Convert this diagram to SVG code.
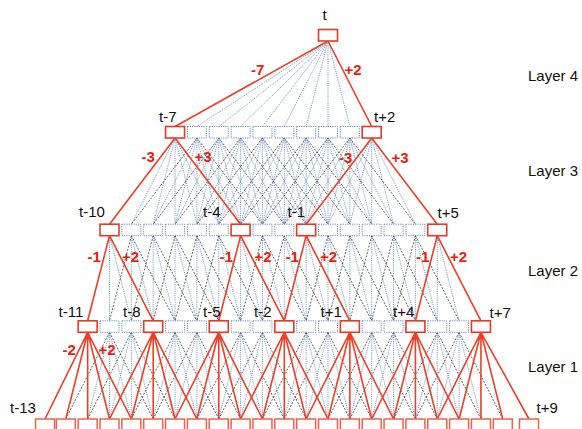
<svg xmlns="http://www.w3.org/2000/svg" width="582" height="429" viewBox="0 0 582 429">
<style>
.bl{stroke:#7ea2d0;stroke-width:1;stroke-dasharray:1.2 1;fill:none}
.bk{stroke:#262626;stroke-width:0.7;stroke-dasharray:2 1.4;fill:none}
.rd{stroke:#ee3f26;stroke-width:1.6;fill:none}
.bx{fill:#fff;stroke:#6f93c4;stroke-width:1;stroke-dasharray:1.3 1}
.rb{fill:#fff;stroke:#e53b25;stroke-width:1.6}
.ib{fill:#fff;stroke:#f0604a;stroke-width:1.5}
text{font-family:"Liberation Sans",Arial,sans-serif;font-size:15px;fill:#111}
.rl{font-weight:bold;fill:#ee1c0a}
</style>
<defs>
<g id="f3in"><line x1="0" y1="0" x2="-43.7" y2="86.2"/><line x1="0" y1="0" x2="-21.85" y2="86.2"/><line x1="0" y1="0" x2="0" y2="86.2"/><line x1="0" y1="0" x2="21.85" y2="86.2"/><line x1="0" y1="0" x2="43.7" y2="86.2"/></g>
<g id="f3out"><line x1="0" y1="0" x2="-65.55" y2="86.2"/><line x1="0" y1="0" x2="65.55" y2="86.2"/></g>
<g id="f2in"><line x1="0" y1="0" x2="0" y2="85.1"/><line x1="0" y1="0" x2="21.85" y2="85.1"/></g>
<g id="f2out"><line x1="0" y1="0" x2="-21.85" y2="85.1"/><line x1="0" y1="0" x2="43.7" y2="85.1"/></g>
<g id="f1in"><line x1="0" y1="0" x2="-21.85" y2="86.7"/><line x1="0" y1="0" x2="0" y2="86.7"/><line x1="0" y1="0" x2="21.85" y2="86.7"/></g>
<g id="f1out"><line x1="0" y1="0" x2="-43.7" y2="86.7"/><line x1="0" y1="0" x2="43.7" y2="86.7"/></g>
</defs>

<g id="connectors">
<g class="bl">
<path d="M328,41L196.9,126.5M328,41L218.75,126.5M328,41L240.6,126.5M328,41L262.45,126.5M328,41L284.3,126.5M328,41L306.15,126.5M328,41L328,126.5M328,41L349.85,126.5"/>
<use href="#f3in" x="175.05" y="138"/><use href="#f3in" x="196.9" y="138"/><use href="#f3in" x="218.75" y="138"/><use href="#f3in" x="240.6" y="138"/><use href="#f3in" x="262.45" y="138"/><use href="#f3in" x="284.3" y="138"/><use href="#f3in" x="306.15" y="138"/><use href="#f3in" x="328" y="138"/><use href="#f3in" x="349.85" y="138"/><use href="#f3in" x="371.7" y="138"/>
<use href="#f2in" x="109.5" y="235.7"/><use href="#f2in" x="131.35" y="235.7"/><use href="#f2in" x="153.2" y="235.7"/><use href="#f2in" x="175.05" y="235.7"/><use href="#f2in" x="196.9" y="235.7"/><use href="#f2in" x="218.75" y="235.7"/><use href="#f2in" x="240.6" y="235.7"/><use href="#f2in" x="262.45" y="235.7"/><use href="#f2in" x="284.3" y="235.7"/><use href="#f2in" x="306.15" y="235.7"/><use href="#f2in" x="328" y="235.7"/><use href="#f2in" x="349.85" y="235.7"/><use href="#f2in" x="371.7" y="235.7"/><use href="#f2in" x="393.55" y="235.7"/><use href="#f2in" x="415.4" y="235.7"/><use href="#f2in" x="437.25" y="235.7"/>
<use href="#f1in" x="109.5" y="332.3"/><use href="#f1in" x="131.35" y="332.3"/><use href="#f1in" x="175.05" y="332.3"/><use href="#f1in" x="196.9" y="332.3"/><use href="#f1in" x="240.6" y="332.3"/><use href="#f1in" x="262.45" y="332.3"/><use href="#f1in" x="306.15" y="332.3"/><use href="#f1in" x="328" y="332.3"/><use href="#f1in" x="371.7" y="332.3"/><use href="#f1in" x="393.55" y="332.3"/><use href="#f1in" x="437.25" y="332.3"/><use href="#f1in" x="459.1" y="332.3"/>
</g>
<g class="bk">
<use href="#f3out" x="196.9" y="138"/><use href="#f3out" x="218.75" y="138"/><use href="#f3out" x="240.6" y="138"/><use href="#f3out" x="262.45" y="138"/><use href="#f3out" x="284.3" y="138"/><use href="#f3out" x="306.15" y="138"/><use href="#f3out" x="328" y="138"/><use href="#f3out" x="349.85" y="138"/>
<use href="#f2out" x="131.35" y="235.7"/><use href="#f2out" x="153.2" y="235.7"/><use href="#f2out" x="175.05" y="235.7"/><use href="#f2out" x="196.9" y="235.7"/><use href="#f2out" x="218.75" y="235.7"/><use href="#f2out" x="262.45" y="235.7"/><use href="#f2out" x="284.3" y="235.7"/><use href="#f2out" x="328" y="235.7"/><use href="#f2out" x="349.85" y="235.7"/><use href="#f2out" x="371.7" y="235.7"/><use href="#f2out" x="393.55" y="235.7"/><use href="#f2out" x="415.4" y="235.7"/>
<use href="#f1out" x="109.5" y="332.3"/><use href="#f1out" x="131.35" y="332.3"/><use href="#f1out" x="175.05" y="332.3"/><use href="#f1out" x="196.9" y="332.3"/><use href="#f1out" x="240.6" y="332.3"/><use href="#f1out" x="262.45" y="332.3"/><use href="#f1out" x="306.15" y="332.3"/><use href="#f1out" x="328" y="332.3"/><use href="#f1out" x="371.7" y="332.3"/><use href="#f1out" x="393.55" y="332.3"/><use href="#f1out" x="437.25" y="332.3"/><use href="#f1out" x="459.1" y="332.3"/>
</g>
<g class="rd">
<path d="M328,41L175.05,126.5M328,41L371.7,126.5"/>
<path d="M175.05,138L109.5,224.2M175.05,138L240.6,224.2M371.7,138L306.15,224.2M371.7,138L437.25,224.2"/>
<path d="M109.5,235.7L87.65,320.8M109.5,235.7L153.2,320.8M240.6,235.7L218.75,320.8M240.6,235.7L284.3,320.8M306.15,235.7L284.3,320.8M306.15,235.7L349.85,320.8M437.25,235.7L415.4,320.8M437.25,235.7L480.95,320.8"/>
<path d="M87.65,332.3L45,419M87.65,332.3L65.8,419M87.65,332.3L87.65,419M87.65,332.3L109.5,419M87.65,332.3L131.35,419"/>
<path d="M153.2,332.3L109.5,419M153.2,332.3L131.35,419M153.2,332.3L153.2,419M153.2,332.3L175.05,419M153.2,332.3L196.9,419"/>
<path d="M218.75,332.3L175.05,419M218.75,332.3L196.9,419M218.75,332.3L218.75,419M218.75,332.3L240.6,419M218.75,332.3L262.45,419"/>
<path d="M284.3,332.3L240.6,419M284.3,332.3L262.45,419M284.3,332.3L284.3,419M284.3,332.3L306.15,419M284.3,332.3L328,419"/>
<path d="M349.85,332.3L306.15,419M349.85,332.3L328,419M349.85,332.3L349.85,419M349.85,332.3L371.7,419M349.85,332.3L393.55,419"/>
<path d="M415.4,332.3L371.7,419M415.4,332.3L393.55,419M415.4,332.3L415.4,419M415.4,332.3L437.25,419M415.4,332.3L459.1,419"/>
<path d="M480.95,332.3L437.25,419M480.95,332.3L459.1,419M480.95,332.3L480.95,419M480.95,332.3L502.8,419M480.95,332.3L529,419"/>
</g>
</g>

<g id="layer4">
<g id="n_t"><rect class="rb" x="318.5" y="29.5" width="19" height="11.5"/><text x="322.5" y="19.5">t</text></g>
</g>

<g id="layer3">
<g id="n3_m7"><rect class="rb" x="165.55" y="126.5" width="19" height="11.5"/><text x="159" y="122">t-7</text></g>
<g id="n3_m6"><rect class="bx" x="187.4" y="126.5" width="19" height="11.5"/></g>
<g id="n3_m5"><rect class="bx" x="209.25" y="126.5" width="19" height="11.5"/></g>
<g id="n3_m4"><rect class="bx" x="231.1" y="126.5" width="19" height="11.5"/></g>
<g id="n3_m3"><rect class="bx" x="252.95" y="126.5" width="19" height="11.5"/></g>
<g id="n3_m2"><rect class="bx" x="274.8" y="126.5" width="19" height="11.5"/></g>
<g id="n3_m1"><rect class="bx" x="296.65" y="126.5" width="19" height="11.5"/></g>
<g id="n3_0"><rect class="bx" x="318.5" y="126.5" width="19" height="11.5"/></g>
<g id="n3_p1"><rect class="bx" x="340.35" y="126.5" width="19" height="11.5"/></g>
<g id="n3_p2"><rect class="rb" x="362.2" y="126.5" width="19" height="11.5"/><text x="374" y="122">t+2</text></g>
</g>

<g id="layer2">
<g id="n2_m10"><rect class="rb" x="100" y="224.2" width="19" height="11.5"/><text x="79" y="217">t-10</text></g>
<g id="n2_m9"><rect class="bx" x="121.85" y="224.2" width="19" height="11.5"/></g>
<g id="n2_m8"><rect class="bx" x="143.7" y="224.2" width="19" height="11.5"/></g>
<g id="n2_m7"><rect class="bx" x="165.55" y="224.2" width="19" height="11.5"/></g>
<g id="n2_m6"><rect class="bx" x="187.4" y="224.2" width="19" height="11.5"/></g>
<g id="n2_m5"><rect class="bx" x="209.25" y="224.2" width="19" height="11.5"/></g>
<g id="n2_m4"><rect class="rb" x="231.1" y="224.2" width="19" height="11.5"/><text x="203" y="217">t-4</text></g>
<g id="n2_m3"><rect class="bx" x="252.95" y="224.2" width="19" height="11.5"/></g>
<g id="n2_m2"><rect class="bx" x="274.8" y="224.2" width="19" height="11.5"/></g>
<g id="n2_m1"><rect class="rb" x="296.65" y="224.2" width="19" height="11.5"/><text x="287.5" y="217">t-1</text></g>
<g id="n2_0"><rect class="bx" x="318.5" y="224.2" width="19" height="11.5"/></g>
<g id="n2_p1"><rect class="bx" x="340.35" y="224.2" width="19" height="11.5"/></g>
<g id="n2_p2"><rect class="bx" x="362.2" y="224.2" width="19" height="11.5"/></g>
<g id="n2_p3"><rect class="bx" x="384.05" y="224.2" width="19" height="11.5"/></g>
<g id="n2_p4"><rect class="bx" x="405.9" y="224.2" width="19" height="11.5"/></g>
<g id="n2_p5"><rect class="rb" x="427.75" y="224.2" width="19" height="11.5"/><text x="437.5" y="218">t+5</text></g>
</g>

<g id="layer1">
<g id="n1_m11"><rect class="rb" x="78.15" y="320.8" width="19" height="11.5"/><text x="58.5" y="317">t-11</text></g>
<g id="n1_m10"><rect class="bx" x="100" y="320.8" width="19" height="11.5"/></g>
<g id="n1_m9"><rect class="bx" x="121.85" y="320.8" width="19" height="11.5"/></g>
<g id="n1_m8"><rect class="rb" x="143.7" y="320.8" width="19" height="11.5"/><text x="123" y="317">t-8</text></g>
<g id="n1_m7"><rect class="bx" x="165.55" y="320.8" width="19" height="11.5"/></g>
<g id="n1_m6"><rect class="bx" x="187.4" y="320.8" width="19" height="11.5"/></g>
<g id="n1_m5"><rect class="rb" x="209.25" y="320.8" width="19" height="11.5"/><text x="203" y="317">t-5</text></g>
<g id="n1_m4"><rect class="bx" x="231.1" y="320.8" width="19" height="11.5"/></g>
<g id="n1_m3"><rect class="bx" x="252.95" y="320.8" width="19" height="11.5"/></g>
<g id="n1_m2"><rect class="rb" x="274.8" y="320.8" width="19" height="11.5"/><text x="254" y="317">t-2</text></g>
<g id="n1_m1"><rect class="bx" x="296.65" y="320.8" width="19" height="11.5"/></g>
<g id="n1_0"><rect class="bx" x="318.5" y="320.8" width="19" height="11.5"/></g>
<g id="n1_p1"><rect class="rb" x="340.35" y="320.8" width="19" height="11.5"/><text x="320.5" y="317">t+1</text></g>
<g id="n1_p2"><rect class="bx" x="362.2" y="320.8" width="19" height="11.5"/></g>
<g id="n1_p3"><rect class="bx" x="384.05" y="320.8" width="19" height="11.5"/></g>
<g id="n1_p4"><rect class="rb" x="405.9" y="320.8" width="19" height="11.5"/><text x="393" y="317">t+4</text></g>
<g id="n1_p5"><rect class="bx" x="427.75" y="320.8" width="19" height="11.5"/></g>
<g id="n1_p6"><rect class="bx" x="449.6" y="320.8" width="19" height="11.5"/></g>
<g id="n1_p7"><rect class="rb" x="471.45" y="320.8" width="19" height="11.5"/><text x="489.5" y="318">t+7</text></g>
</g>

<g id="layer0">
<g id="n0_m13"><rect class="ib" x="35.5" y="419" width="19" height="11.5"/><text x="10" y="413">t-13</text></g>
<g id="n0_m12"><rect class="ib" x="56.3" y="419" width="19" height="11.5"/></g>
<g id="n0_m11"><rect class="ib" x="78.15" y="419" width="19" height="11.5"/></g>
<g id="n0_m10"><rect class="ib" x="100" y="419" width="19" height="11.5"/></g>
<g id="n0_m9"><rect class="ib" x="121.85" y="419" width="19" height="11.5"/></g>
<g id="n0_m8"><rect class="ib" x="143.7" y="419" width="19" height="11.5"/></g>
<g id="n0_m7"><rect class="ib" x="165.55" y="419" width="19" height="11.5"/></g>
<g id="n0_m6"><rect class="ib" x="187.4" y="419" width="19" height="11.5"/></g>
<g id="n0_m5"><rect class="ib" x="209.25" y="419" width="19" height="11.5"/></g>
<g id="n0_m4"><rect class="ib" x="231.1" y="419" width="19" height="11.5"/></g>
<g id="n0_m3"><rect class="ib" x="252.95" y="419" width="19" height="11.5"/></g>
<g id="n0_m2"><rect class="ib" x="274.8" y="419" width="19" height="11.5"/></g>
<g id="n0_m1"><rect class="ib" x="296.65" y="419" width="19" height="11.5"/></g>
<g id="n0_0"><rect class="ib" x="318.5" y="419" width="19" height="11.5"/></g>
<g id="n0_p1"><rect class="ib" x="340.35" y="419" width="19" height="11.5"/></g>
<g id="n0_p2"><rect class="ib" x="362.2" y="419" width="19" height="11.5"/></g>
<g id="n0_p3"><rect class="ib" x="384.05" y="419" width="19" height="11.5"/></g>
<g id="n0_p4"><rect class="ib" x="405.9" y="419" width="19" height="11.5"/></g>
<g id="n0_p5"><rect class="ib" x="427.75" y="419" width="19" height="11.5"/></g>
<g id="n0_p6"><rect class="ib" x="449.6" y="419" width="19" height="11.5"/></g>
<g id="n0_p7"><rect class="ib" x="471.45" y="419" width="19" height="11.5"/></g>
<g id="n0_p8"><rect class="ib" x="493.3" y="419" width="19" height="11.5"/></g>
<g id="n0_p9"><rect class="ib" x="519.5" y="419" width="19" height="11.5"/><text x="536.5" y="413">t+9</text></g>
</g>

<g id="edge-labels">
<text class="rl" x="251" y="74.5">-7</text>
<text class="rl" x="344.5" y="75">+2</text>
<text class="rl" x="141.5" y="162">-3</text>
<text class="rl" x="194.5" y="162">+3</text>
<text class="rl" x="339" y="163">-3</text>
<text class="rl" x="391.5" y="163">+3</text>
<text class="rl" x="87.5" y="262">-1</text>
<text class="rl" x="122" y="262">+2</text>
<text class="rl" x="219.5" y="262">-1</text>
<text class="rl" x="254.5" y="262">+2</text>
<text class="rl" x="285.5" y="262">-1</text>
<text class="rl" x="320" y="262">+2</text>
<text class="rl" x="416" y="262">-1</text>
<text class="rl" x="450" y="262">+2</text>
<text class="rl" x="62.5" y="355">-2</text>
<text class="rl" x="98.5" y="355">+2</text>
</g>

<g id="layer-labels">
<text x="528" y="80.5">Layer 4</text>
<text x="528" y="175.5">Layer 3</text>
<text x="528" y="275.5">Layer 2</text>
<text x="528" y="372">Layer 1</text>
</g>
</svg>
